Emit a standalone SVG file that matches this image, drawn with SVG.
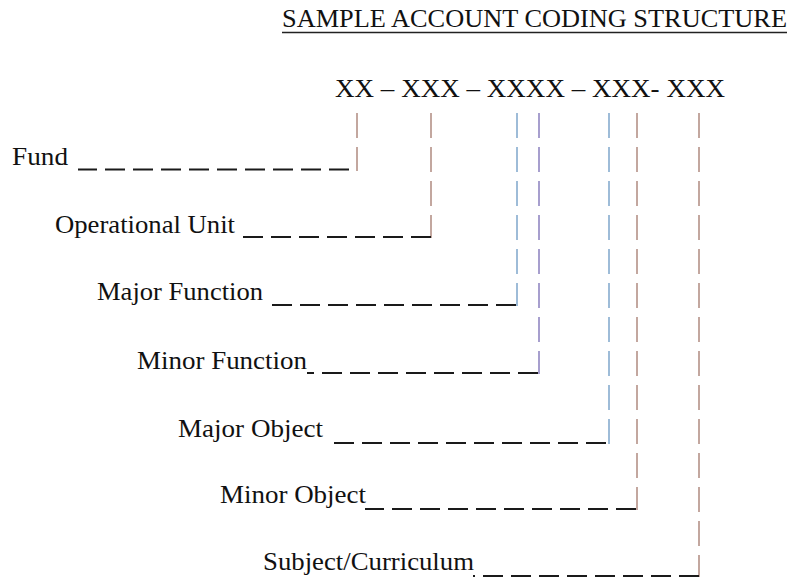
<svg xmlns="http://www.w3.org/2000/svg" width="792" height="580" viewBox="0 0 792 580">
<style>
text{font-family:"Liberation Serif","Times New Roman",serif;font-size:26px;fill:#111}
.h{stroke:#1a1a1a;stroke-width:2;stroke-dasharray:20 8;fill:none}
.v{stroke:#b08a80;stroke-width:1.5;stroke-dasharray:25 9;fill:none}
.vb{stroke:#7fa6cc}
.vp{stroke:#8a80bf}
</style>
<rect width="792" height="580" fill="#fff"/>
<g id="title">
<text x="282" y="27" textLength="505" lengthAdjust="spacingAndGlyphs">SAMPLE ACCOUNT CODING STRUCTURE</text>
<line x1="282" y1="32.5" x2="787" y2="32.5" stroke="#222" stroke-width="1.5"/>
</g>
<g id="code">
<text x="335" y="97" textLength="390" lengthAdjust="spacingAndGlyphs">XX – XXX – XXXX – XXX- XXX</text>
</g>
<g id="fund"><text x="12" y="165" textLength="56" lengthAdjust="spacingAndGlyphs">Fund</text></g>
<g id="operational-unit"><text x="55" y="233" textLength="180" lengthAdjust="spacingAndGlyphs">Operational Unit</text></g>
<g id="major-function"><text x="97" y="300" textLength="166" lengthAdjust="spacingAndGlyphs">Major Function</text></g>
<g id="minor-function"><text x="137" y="369" textLength="170" lengthAdjust="spacingAndGlyphs">Minor Function</text></g>
<g id="major-object"><text x="178" y="437" textLength="145" lengthAdjust="spacingAndGlyphs">Major Object</text></g>
<g id="minor-object"><text x="220" y="503" textLength="146" lengthAdjust="spacingAndGlyphs">Minor Object</text></g>
<g id="subject-curriculum"><text x="263" y="570" textLength="211" lengthAdjust="spacingAndGlyphs">Subject/Curriculum</text></g>
<g id="connectors">
<line class="v" x1="357" y1="113" x2="357" y2="171"/>
<line class="v" x1="431" y1="113" x2="431" y2="238"/>
<line class="v vb" x1="517" y1="113" x2="517" y2="306"/>
<line class="v vp" x1="539" y1="113" x2="539" y2="374"/>
<line class="v vb" x1="609" y1="113" x2="609" y2="444"/>
<line class="v" x1="637" y1="113" x2="637" y2="510"/>
<line class="v" x1="699" y1="113" x2="699" y2="577"/>
<line class="h" x1="349" y1="169.5" x2="78" y2="169.5"/>
<line class="h" x1="431" y1="237" x2="243" y2="237"/>
<line class="h" x1="516" y1="305" x2="272" y2="305"/>
<line class="h" x1="538" y1="373" x2="307" y2="373"/>
<line class="h" x1="606" y1="443" x2="327" y2="443"/>
<line class="h" x1="636" y1="509" x2="365" y2="509"/>
<line class="h" x1="699" y1="576" x2="473" y2="576"/>
</g>
</svg>
